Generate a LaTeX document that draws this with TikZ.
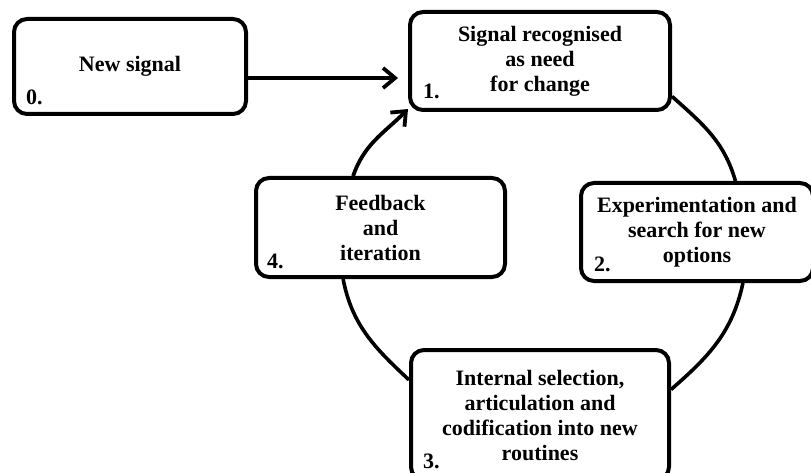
\documentclass[tikz,border=0pt]{standalone}
\usepackage{fontspec}
\setmainfont{Liberation Serif}
\usetikzlibrary{positioning,arrows.meta}

\begin{document}
\begin{tikzpicture}[x=1pt,y=1pt]
\tikzstyle{every node}+=[inner sep=0pt, font=\fontsize{22}{25}\selectfont\bfseries]
\tikzstyle{stage}=[draw=black, line width=4pt, rounded corners=13pt, align=center]
\tikzstyle{numlbl}=[font=\fontsize{22}{25}\selectfont\bfseries]
\tikzstyle{cycleline}=[black, line width=3.6pt]
\tikzstyle{flowarrow}=[black, line width=3.8pt, -{Straight Barb[length=12pt,width=20pt]}]
\useasboundingbox (0,0) rectangle (811,-473);
\node [stage, minimum width=232pt, minimum height=95pt] (b0) at (130,-66.5) {New signal};
\node [numlbl, above right=11pt and 14pt of b0.south west] (n0) {0.};
\node [stage, minimum width=260pt, minimum height=98pt] (b1) at (540,-61) {Signal recognised\\as need\\for change};
\node [numlbl, above right=13pt and 15pt of b1.south west] (n1) {1.};
\node [stage, minimum width=232pt, minimum height=98pt] (b2) at (697,-232) {Experimentation and\\search for new\\options};
\node [numlbl, above right=11pt and 15pt of b2.south west] (n2) {2.};
\node [stage, minimum width=258pt, minimum height=130pt] (b3) at (540,-415) {Internal selection,\\articulation and\\codification into new\\routines};
\node [numlbl, above right=13pt and 14pt of b3.south west] (n3) {3.};
\node [stage, minimum width=249pt, minimum height=99pt] (b4) at (380.5,-227.5) {Feedback\\and\\iteration};
\node [numlbl, above right=10pt and 13pt of b4.south west] (n4) {4.};
%the cycle
\draw [cycleline] (b1.-15.5) to[out=-42,in=106] (b2.53);
\draw [cycleline] (b2.-48) to[out=-102,in=41] (b3.11.7);
\draw [cycleline] (b3.165.8) to[out=137,in=-79] (b4.-126);
\draw [flowarrow] (b4.118) to[out=71,in=225] (b1.-160);
\draw [flowarrow] ([yshift=-11.5pt]b0.east) -- ([yshift=-17pt,xshift=-10pt]b1.west);
\end{tikzpicture}
\end{document}
